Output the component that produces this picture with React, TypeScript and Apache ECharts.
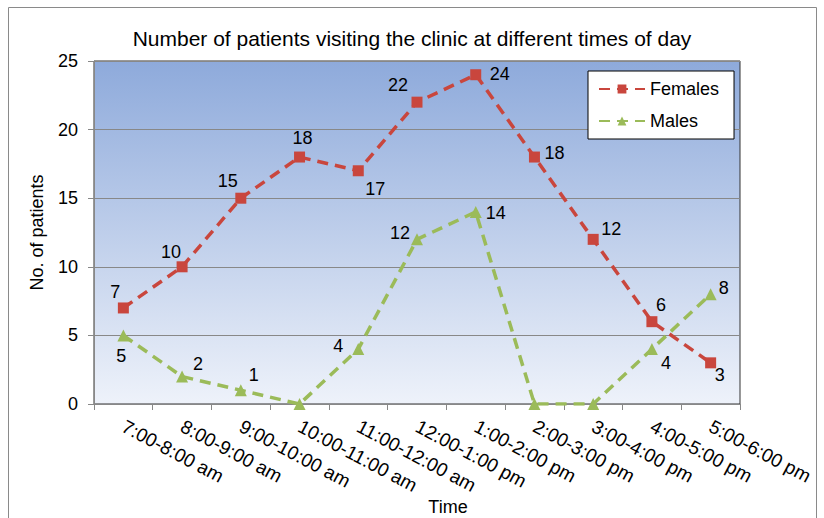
import React, { useEffect, useRef } from "react";
import * as echarts from "echarts";

const categories = [
  "7:00-8:00 am",
  "8:00-9:00 am",
  "9:00-10:00 am",
  "10:00-11:00 am",
  "11:00-12:00 am",
  "12:00-1:00 pm",
  "1:00-2:00 pm",
  "2:00-3:00 pm",
  "3:00-4:00 pm",
  "4:00-5:00 pm",
  "5:00-6:00 pm",
];
const females = [7, 10, 15, 18, 17, 22, 24, 18, 12, 6, 3];
const males = [5, 2, 1, 0, 4, 12, 14, 0, 0, 4, 8];

// label offsets (styling only)
const femaleLabelOffsets = [
  [-8, -16], [-11, -15], [-13, -17], [3, -19], [17, 18], [-19, -17],
  [24, -1], [20, -4], [18, -10], [9, -17], [9, 12],
];
const maleLabelOffsets = [
  [-2, 21], [16, -13], [13, -15], [0, 0], [-20, -3], [-17, -6],
  [20, 1], [0, 0], [0, 0], [14, 14], [13, -6],
];

const FONT = "Liberation Sans, Arial, sans-serif";
const RED = "#C9463D";
const GREEN = "#9BBB59";
const FS = 18;

function buildData(values: number[], offsets: number[][]) {
  return values.map((v, i) => ({
    value: v,
    label: {
      show: v !== 0,
      position: "inside",
      offset: offsets[i],
    },
  }));
}

export default function App() {
  const ref = useRef<HTMLDivElement>(null);
  useEffect(() => {
    if (!ref.current) return;
    const chart = echarts.init(ref.current, null, { renderer: "svg" });
    chart.setOption({
      animation: false,
      backgroundColor: "#fff",
      textStyle: { fontFamily: FONT },
      title: {
        text: "Number of patients visiting the clinic at different times of day",
        left: "center",
        top: 23,
        textStyle: { fontFamily: FONT, fontSize: 21, fontWeight: "normal", color: "#000" },
      },
      graphic: [
        {
          type: "rect",
          shape: { x: 8.5, y: 7.5, width: 808, height: 530 },
          style: { fill: "none", stroke: "#8a8a8a", lineWidth: 1 },
          silent: true,
        },
      ],
      legend: {
        orient: "vertical",
        left: 588,
        top: 71,
        padding: [9, 15, 9, 10],
        itemGap: 14,
        itemWidth: 46,
        itemHeight: 11,
        backgroundColor: "#fff",
        borderColor: "#000",
        borderWidth: 1,
        textStyle: { fontFamily: FONT, fontSize: FS, color: "#000" },
        data: ["Females", "Males"],
      },
      grid: {
        left: 94,
        right: 84,
        top: 61,
        bottom: 114,
        outerBoundsMode: "none",
        containLabel: false,
        show: true,
        borderColor: "#333",
        borderWidth: 1,
        backgroundColor: new echarts.graphic.LinearGradient(0, 0, 0, 1, [
          { offset: 0, color: "#8EAADB" },
          { offset: 1, color: "#EEF2FA" },
        ]),
      },
      xAxis: {
        type: "category",
        data: categories,
        boundaryGap: true,
        name: "Time",
        nameLocation: "middle",
        nameGap: 94,
        nameMoveOverlap: false,
        nameTextStyle: {
          fontFamily: FONT,
          fontSize: FS,
          color: "#000",
          padding: [0, 0, 0, 62],
        },
        axisLine: { lineStyle: { color: "#888", width: 1 } },
        axisTick: { show: true, alignWithLabel: false, length: 6, lineStyle: { color: "#888" } },
        axisLabel: {
          rotate: -28,
          margin: 21,
          interval: 0,
          fontFamily: FONT,
          fontSize: 19,
          color: "#000",
        },
        splitLine: { show: false },
      },
      yAxis: {
        type: "value",
        min: 0,
        max: 25,
        interval: 5,
        name: "No. of patients",
        nameLocation: "middle",
        nameGap: 48,
        nameMoveOverlap: false,
        nameTextStyle: { fontFamily: FONT, fontSize: FS, color: "#000" },
        axisLine: { show: true, lineStyle: { color: "#888" } },
        axisTick: { show: true, length: 6, lineStyle: { color: "#888" } },
        axisLabel: { fontFamily: FONT, fontSize: FS, color: "#000", margin: 16 },
        splitLine: { show: true, lineStyle: { color: "#888", width: 1 } },
      },
      series: [
        {
          name: "Females",
          type: "line",
          data: buildData(females, femaleLabelOffsets),
          symbol: "rect",
          symbolSize: 11,
          itemStyle: { color: RED },
          lineStyle: { color: RED, width: 3.5, type: [11, 7] },
          label: { fontFamily: FONT, fontSize: FS, color: "#000" },
          z: 3,
        },
        {
          name: "Males",
          type: "line",
          data: buildData(males, maleLabelOffsets),
          symbol: "triangle",
          symbolSize: 12,
          itemStyle: { color: GREEN },
          lineStyle: { color: GREEN, width: 3.5, type: [11, 7] },
          label: { fontFamily: FONT, fontSize: FS, color: "#000" },
          z: 2,
        },
      ],
    });
    return () => chart.dispose();
  }, []);
  return (
    <div
      ref={ref}
      style={{ position: "fixed", left: 0, top: 0, width: 824, height: 518 }}
    />
  );
}
